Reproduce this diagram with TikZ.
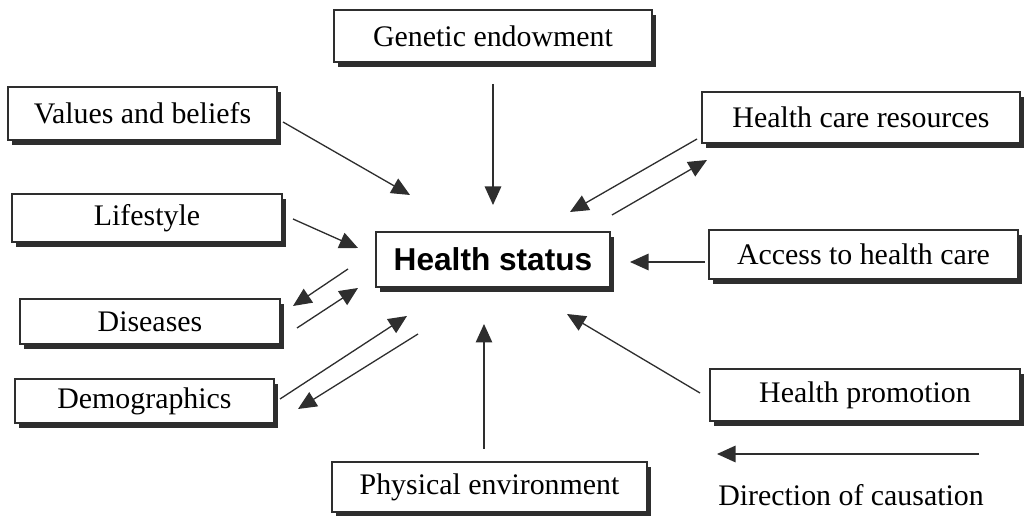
\documentclass[tikz,border=0pt]{standalone}
\usepackage{fontspec}
\setmainfont{Liberation Serif}
\newfontfamily\hsfont{Liberation Sans}
\usetikzlibrary{arrows.meta,shadows}
\definecolor{ink}{HTML}{2E2E2E}
\begin{document}
\begin{tikzpicture}[x=0.02cm,y=-0.02cm,
  box/.style={draw=ink, line width=0.9pt, fill=white, inner sep=0pt,
    font=\fontsize{17}{20}\selectfont,
    drop shadow={shadow xshift=0.085cm, shadow yshift=-0.095cm, fill=ink, opacity=1}},
  link/.style={draw=ink, line width=0.75pt,
    -{Triangle[length=0.37cm, width=0.33cm]}}]
\useasboundingbox (0,0) rectangle (1024,516);

% factor boxes
\node[box, minimum width=318*0.02cm, minimum height=52*0.02cm] (gen)  at (493,36)    {Genetic endowment};
\node[box, minimum width=269*0.02cm, minimum height=53*0.02cm] (val)  at (142.5,113.5) {Values and beliefs};
\node[box, minimum width=270*0.02cm, minimum height=48*0.02cm] (life) at (147,218)   {Lifestyle};
\node[box, minimum width=260*0.02cm, minimum height=45*0.02cm] (dis)  at (150,321.5) {Diseases};
\node[box, minimum width=259*0.02cm, minimum height=44*0.02cm] (dem)  at (144.5,401) {Demographics};
\node[box, minimum width=315*0.02cm, minimum height=50*0.02cm] (phys) at (489.5,487) {Physical environment};
\node[box, minimum width=318*0.02cm, minimum height=51*0.02cm] (hcr)  at (861,117.5) {Health care resources};
\node[box, minimum width=309*0.02cm, minimum height=49*0.02cm] (acc)  at (863.5,254.5) {Access to health care};
\node[box, minimum width=310*0.02cm, minimum height=52*0.02cm] (prom) at (865,395)   {Health promotion};

% central outcome
\node[box, minimum width=234*0.02cm, minimum height=55*0.02cm,
      font=\hsfont\bfseries\fontsize{18}{21}\selectfont] (hs) at (493,259.5) {Health status};

% connector end points
\coordinate (genA) at (493,84);   \coordinate (genB) at (493,205);
\coordinate (valA) at (283,122);  \coordinate (valB) at (410,195);
\coordinate (lifA) at (293,219);  \coordinate (lifB) at (358,248);
\coordinate (hcrA) at (697,139);  \coordinate (hcrB) at (570,212);
\coordinate (hcrC) at (612,215);  \coordinate (hcrD) at (707,160);
\coordinate (accA) at (705,262);  \coordinate (accB) at (630,262);
\coordinate (proA) at (700,393);  \coordinate (proB) at (567,314);
\coordinate (phyA) at (484,449);  \coordinate (phyB) at (484,324);
\coordinate (disA) at (348,269);  \coordinate (disB) at (293,306);
\coordinate (disC) at (297,328);  \coordinate (disD) at (358,288);
\coordinate (demA) at (280,399);  \coordinate (demB) at (407,316);
\coordinate (demC) at (418,334);  \coordinate (demD) at (298,409);

\draw[link] (genA) -- (genB);
\draw[link] (valA) -- (valB);
\draw[link] (lifA) -- (lifB);
\draw[link] (hcrA) -- (hcrB);
\draw[link] (hcrC) -- (hcrD);
\draw[link] (accA) -- (accB);
\draw[link] (proA) -- (proB);
\draw[link] (phyA) -- (phyB);
\draw[link] (disA) -- (disB);
\draw[link] (disC) -- (disD);
\draw[link] (demA) -- (demB);
\draw[link] (demC) -- (demD);

% legend
\coordinate (legA) at (979,454);
\coordinate (legB) at (717,454);
\draw[link] (legA) -- (legB);
\node[font=\fontsize{17}{20}\selectfont, inner sep=0pt] (legend) at (851,495) {Direction of causation};
\end{tikzpicture}
\end{document}
